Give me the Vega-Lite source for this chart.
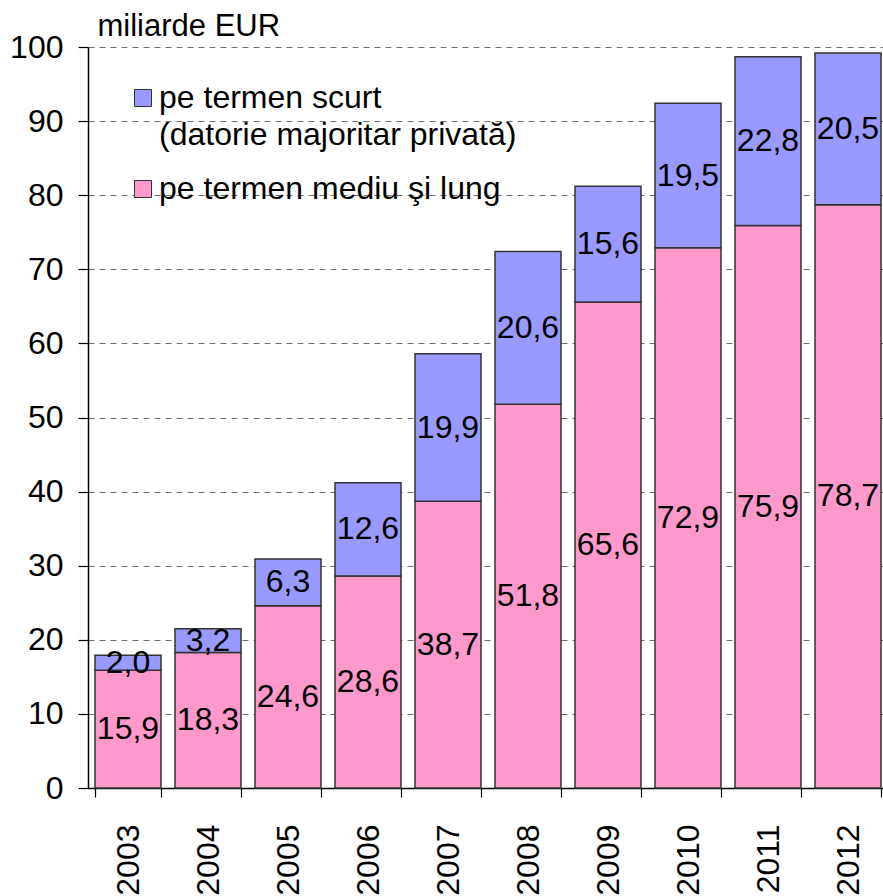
{
  "$schema": "https://vega.github.io/schema/vega-lite/v6.json",
  "autosize": {"type": "none"},
  "padding": {"left": 88, "top": 47, "right": 0, "bottom": 108},
  "width": 800,
  "height": 741,
  "background": "white",
  "config": {
    "font": "Liberation Sans",
    "locale": {"number": {"decimal": ",", "thousands": ".", "grouping": [3], "currency": ["", " €"]}},
    "view": {"stroke": null}
  },
  "data": {
    "values": [
      {"year": "2003", "series": "pe termen mediu şi lung", "ord": 1, "value": 15.9},
      {"year": "2003", "series": "pe termen scurt", "ord": 2, "value": 2.0},
      {"year": "2004", "series": "pe termen mediu şi lung", "ord": 1, "value": 18.3},
      {"year": "2004", "series": "pe termen scurt", "ord": 2, "value": 3.2},
      {"year": "2005", "series": "pe termen mediu şi lung", "ord": 1, "value": 24.6},
      {"year": "2005", "series": "pe termen scurt", "ord": 2, "value": 6.3},
      {"year": "2006", "series": "pe termen mediu şi lung", "ord": 1, "value": 28.6},
      {"year": "2006", "series": "pe termen scurt", "ord": 2, "value": 12.6},
      {"year": "2007", "series": "pe termen mediu şi lung", "ord": 1, "value": 38.7},
      {"year": "2007", "series": "pe termen scurt", "ord": 2, "value": 19.9},
      {"year": "2008", "series": "pe termen mediu şi lung", "ord": 1, "value": 51.8},
      {"year": "2008", "series": "pe termen scurt", "ord": 2, "value": 20.6},
      {"year": "2009", "series": "pe termen mediu şi lung", "ord": 1, "value": 65.6},
      {"year": "2009", "series": "pe termen scurt", "ord": 2, "value": 15.6},
      {"year": "2010", "series": "pe termen mediu şi lung", "ord": 1, "value": 72.9},
      {"year": "2010", "series": "pe termen scurt", "ord": 2, "value": 19.5},
      {"year": "2011", "series": "pe termen mediu şi lung", "ord": 1, "value": 75.9},
      {"year": "2011", "series": "pe termen scurt", "ord": 2, "value": 22.8},
      {"year": "2012", "series": "pe termen mediu şi lung", "ord": 1, "value": 78.7},
      {"year": "2012", "series": "pe termen scurt", "ord": 2, "value": 20.5}
    ]
  },
  "encoding": {
    "x": {
      "field": "year", "type": "nominal",
      "scale": {"paddingInner": 0.175, "paddingOuter": 0.0875},
      "axis": {
        "title": null, "labelAngle": -90, "labelFontSize": 32, "labelColor": "black",
        "labelPadding": 27, "tickSize": 9, "tickBand": "extent", "tickColor": "black",
        "domainColor": "black", "domainWidth": 1.5, "tickWidth": 1.2, "grid": false
      }
    }
  },
  "layer": [
    {
      "mark": {"type": "bar", "stroke": "#333333", "strokeWidth": 1.5, "opacity": 1},
      "encoding": {
        "y": {
          "field": "value", "type": "quantitative", "stack": "zero",
          "scale": {"domain": [0, 100], "nice": false},
          "axis": {
            "values": [0, 10, 20, 30, 40, 50, 60, 70, 80, 90, 100],
            "title": "miliarde EUR", "titleAngle": 0, "titleAlign": "left", "titleBaseline": "alphabetic",
            "titleX": 9, "titleY": -12, "titleFontSize": 31, "titleFontWeight": "normal", "titleColor": "black",
            "labelFontSize": 32, "labelColor": "black", "labelPadding": 15,
            "tickSize": 10, "tickColor": "black", "tickWidth": 1.2,
            "domainColor": "black", "domainWidth": 1.5,
            "grid": true, "gridDash": [6, 5], "gridColor": "#707070", "gridWidth": 1.2
          }
        },
        "order": {"field": "ord", "type": "quantitative", "sort": "ascending"},
        "fill": {
          "field": "series", "type": "nominal",
          "scale": {"domain": ["pe termen scurt", "pe termen mediu şi lung"], "range": ["#9999FF", "#FF99CC"]},
          "legend": {
            "title": null, "orient": "none", "legendX": 39, "legendY": 35,
            "symbolType": "square", "symbolSize": 289, "symbolStrokeColor": "#333333", "symbolStrokeWidth": 1,
            "symbolOpacity": 1,
            "labelFontSize": 32, "labelColor": "black", "labelOffset": 0, "labelLimit": 600,
            "labelBaseline": "middle",
            "labelExpr": "datum.label == 'pe termen scurt' ? ['pe termen scurt', '(datorie majoritar privată)'] : datum.label",
            "rowPadding": 22, "padding": 0,
            "encode": {
              "labels": {
                "update": {
                  "lineHeight": {"value": 37}
                }
              }
            }
          }
        }
      }
    },
    {
      "transform": [
        {"stack": "value", "groupby": ["year"], "sort": [{"field": "ord", "order": "ascending"}], "as": ["v0", "v1"]},
        {"fold": ["v0", "v1"], "as": ["k", "pos"]},
        {"aggregate": [{"op": "mean", "field": "pos", "as": "mid"}], "groupby": ["year", "series", "ord", "value"]}
      ],
      "mark": {"type": "text", "fontSize": 32, "color": "black", "baseline": "middle", "align": "center"},
      "encoding": {
        "y": {"field": "mid", "type": "quantitative"},
        "text": {"field": "value", "type": "quantitative", "format": ".1f"}
      }
    }
  ]
}
